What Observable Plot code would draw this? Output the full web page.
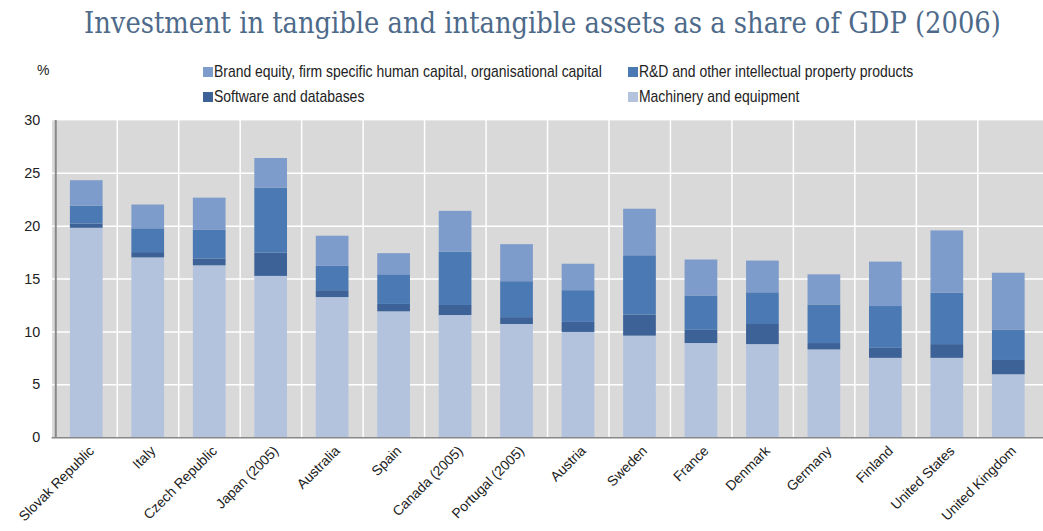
<!DOCTYPE html>
<html>
<head>
<meta charset="utf-8">
<script src="https://cdn.jsdelivr.net/npm/d3@7"></script>
<script src="https://cdn.jsdelivr.net/npm/@observablehq/plot@0.6"></script>
<style>
html, body { margin: 0; padding: 0; background: #fff; overflow: hidden; width: 1043px; height: 531px; }
#wrap { position: relative; width: 1043px; height: 531px; overflow: hidden; }
#title { position: absolute; left: 84px; top: 6px; font-family: "DejaVu Serif", serif; font-size: 25.8px; color: #4e6a8a; white-space: nowrap; transform: scaleY(1.12); transform-origin: left top; }
.leg { position: absolute; white-space: nowrap; }
.legtxt { display: inline-block; font-family: "Liberation Sans", sans-serif; font-size: 17px; color: #222; transform: scaleX(0.82); transform-origin: left center; }
.sw { position: absolute; left: 0; width: 10px; height: 10px; }
#pct { position: absolute; left: 37px; top: 62px; font-family: "Liberation Sans", sans-serif; font-size: 14px; color: #222; }
#chart { position: absolute; left: 0; top: 110px; }
</style>
</head>
<body>
<div id="wrap">
  <div id="title">Investment in tangible and intangible assets as a share of GDP (2006)</div>
  <div id="pct">%</div>
  <div id="legend"></div>
  <div id="chart"></div>
</div>
<script>
const countries = ["Slovak Republic","Italy","Czech Republic","Japan (2005)","Australia","Spain","Canada (2005)","Portugal (2005)","Austria","Sweden","France","Denmark","Germany","Finland","United States","United Kingdom"];
const machinery = [19.8, 17.0, 16.25, 15.25, 13.25, 11.9, 11.55, 10.7, 9.95, 9.6, 8.9, 8.8, 8.3, 7.5, 7.5, 5.95];
const software  = [0.4, 0.5, 0.65, 2.2, 0.65, 0.7, 0.95, 0.65, 0.95, 2.0, 1.25, 1.9, 0.6, 0.95, 1.3, 1.35];
const rnd       = [1.7, 2.25, 2.7, 6.15, 2.3, 2.8, 5.05, 3.4, 3.0, 5.6, 3.25, 3.0, 3.65, 3.95, 4.85, 2.85];
const brand     = [2.4, 2.25, 3.05, 2.8, 2.85, 2.0, 3.85, 3.5, 2.5, 4.4, 3.4, 3.0, 2.85, 4.2, 5.9, 5.4];
const seriesNames = ["Machinery and equipment","Software and databases","R&D and other intellectual property products","Brand equity, firm specific human capital, organisational capital"];
const seriesColors = ["#b3c3de","#3d6298","#4a79b4","#7e9ccb"];
const yTicks = [0, 5, 10, 15, 20, 25, 30];

const seriesValues = [machinery, software, rnd, brand];
const data = [];
countries.forEach((c, i) => {
  seriesValues.forEach((vals, s) => data.push({country: c, series: seriesNames[s], value: vals[i]}));
});

// legend
const legendItems = [
  {s: 3, left: 203, top: 62},
  {s: 2, left: 628, top: 62},
  {s: 1, left: 203, top: 87},
  {s: 0, left: 628, top: 87}
];
const legend = document.getElementById("legend");
legendItems.forEach(it => {
  const d = document.createElement("div");
  d.className = "leg";
  d.style.left = it.left + "px";
  d.style.top = it.top + "px";
  const sw = document.createElement("span");
  sw.className = "sw";
  sw.style.background = seriesColors[it.s];
  sw.style.top = "5px";
  d.appendChild(sw);
  const t = document.createElement("span");
  t.className = "legtxt";
  t.style.marginLeft = "11px";
  t.textContent = seriesNames[it.s];
  d.appendChild(t);
  legend.appendChild(d);
});

const W = 1052, ML = 52;
const step = (W - ML) / countries.length;
const chart = Plot.plot({
  width: W,
  height: 421,
  marginLeft: ML,
  marginRight: 0,
  marginTop: 10,
  marginBottom: 91,
  style: {fontFamily: "'Liberation Sans', sans-serif", fontSize: "14px", color: "#222", background: "transparent"},
  x: {domain: countries, padding: 0, label: null},
  y: {domain: [0, 30], ticks: yTicks, label: null},
  color: {domain: seriesNames, range: seriesColors},
  marks: [
    Plot.frame({fill: "#d9d9d9", stroke: null}),
    Plot.ruleY(yTicks.slice(1, -1), {stroke: "white", strokeWidth: 1.5}),
    Plot.ruleX(countries.slice(1), {x: d => d, dx: -step / 2, stroke: "white", strokeWidth: 1.5}),
    Plot.barY(data, Plot.stackY({order: null, x: "country", y: "value", fill: "series", insetLeft: 14.5, insetRight: 14.5})),
    Plot.axisY({ticks: yTicks, tickSize: 0, tickPadding: 12, fontSize: 14.5}),
    Plot.axisX({tickSize: 0, tickRotate: -45, tickPadding: 11, fontSize: 14, textAnchor: "end", dx: 5}),
    Plot.ruleX([0], {x: () => countries[0], dx: -step / 2, stroke: "#888", strokeWidth: 2}),
    Plot.ruleY([0], {stroke: "#888", strokeWidth: 1.5})
  ]
});
document.getElementById("chart").appendChild(chart);
</script>
</body>
</html>
